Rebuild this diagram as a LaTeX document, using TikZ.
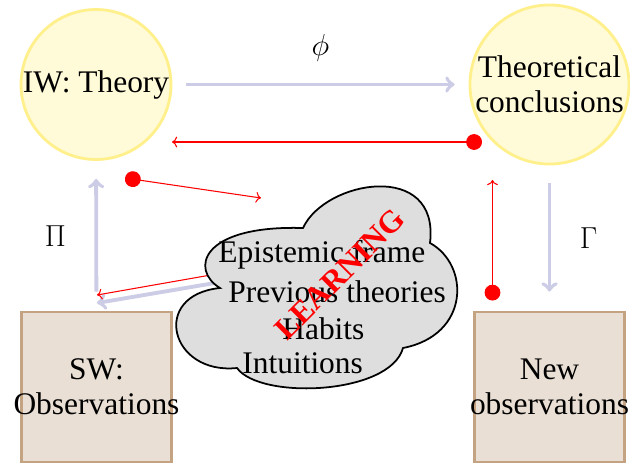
\documentclass[tikz,border=0pt]{standalone}
\usepackage{fontspec}
\setmainfont{Liberation Serif}
\usetikzlibrary{arrows.meta,backgrounds}

\definecolor{worldfill}{RGB}{255,250,215}
\definecolor{worlddraw}{RGB}{255,240,140}
\definecolor{datafill}{RGB}{233,223,212}
\definecolor{datadraw}{RGB}{196,163,130}
\definecolor{mapline}{RGB}{204,204,230}

\begin{document}
\begin{tikzpicture}[
    x=0.02cm, y=-0.02cm,
    font=\fontsize{17.9}{19.8}\selectfont,
    world/.style={circle, draw=worlddraw, fill=worldfill, line width=1.6pt, minimum size=3cm, inner sep=0pt, align=center},
    data/.style={rectangle, draw=datadraw, fill=datafill, line width=1.6pt, minimum size=3cm, inner xsep=-0.5cm, inner ysep=0pt, align=center},
    map/.style={draw=mapline, line width=2.2pt, ->, >=to},
    feedback/.style={red, line width=0.6pt, {Circle[length=9pt]}-{To}},
    frameline/.style={draw, fill=black!13, line width=1pt},
    frameitem/.style={anchor=base west, inner sep=0pt}
  ]
  \useasboundingbox (0,0) rectangle (630,464);

  % Mondi
  \node[world] (iw) at (96,84.5) {IW: Theory};
  \node[world] (theo) at (549.5,84.5) {Theoretical\\conclusions};
  \node[data] (sw) at (96.5,387) {SW:\\Observations};
  \node[data] (new) at (549.5,387) {New\\observations};

  % Mappe
  \draw[map, shorten <=0.28cm, shorten >=0.28cm] (iw) -- node[above=0.3cm] (phi) {$\phi$} (theo);
  \draw[map, shorten <=0.36cm, shorten >=0.38cm] (theo) -- node[right=0.45cm] (gamma) {$\Gamma$} (new);
  \draw[map, shorten <=0.38cm, shorten >=0.36cm] (sw) -- node[left=0.45cm] (pi) {$\Pi$} (iw);

  % Punti di retroazione
  \coordinate (theo out) at (482,142);
  \coordinate (iw in) at (172,142);
  \coordinate (iw out) at (125,178);
  \coordinate (frame top) at (261,198);
  \coordinate (new out) at (492.5,300.5);
  \coordinate (theo in) at (492.5,180);
  \coordinate (frame in1) at (262,275);
  \coordinate (frame in2) at (262,266);
  \coordinate (sw in1) at (97,303);
  \coordinate (sw in2) at (97,295);

  \draw[feedback] (theo out) -- (iw in);
  \draw[feedback] (iw out) -- (frame top);
  \draw[feedback] (new out) -- (theo in);

  % Cornice epistemica (nuvola)
  \draw[frameline] (303,228) .. controls (325,180) and (440,160) .. (430,243)
    .. controls (470,265) and (470,335) .. (403,348)
    .. controls (390,395) and (260,400) .. (237,368)
    .. controls (170,375) and (150,295) .. (220,288)
    .. controls (190,270) and (200,225) .. (303,228) -- cycle;
  \begin{scope}[on background layer]
    \draw[map] (frame in1) -- (sw in1);
    \draw[red, line width=0.6pt, ->] (frame in2) -- (sw in2);
  \end{scope}
  \node[frameitem] (epi) at (218,262) {Epistemic frame};
  \node[frameitem] (prev) at (228,302) {Previous theories};
  \node[frameitem] (habits) at (282,339) {Habits};
  \node[frameitem] (intu) at (242,373) {Intuitions};
  \node[rotate=45, text=red, font=\fontsize{17.9}{19.8}\selectfont\bfseries] (learning) at (340,274) {LEARNING};

\end{tikzpicture}
\end{document}
